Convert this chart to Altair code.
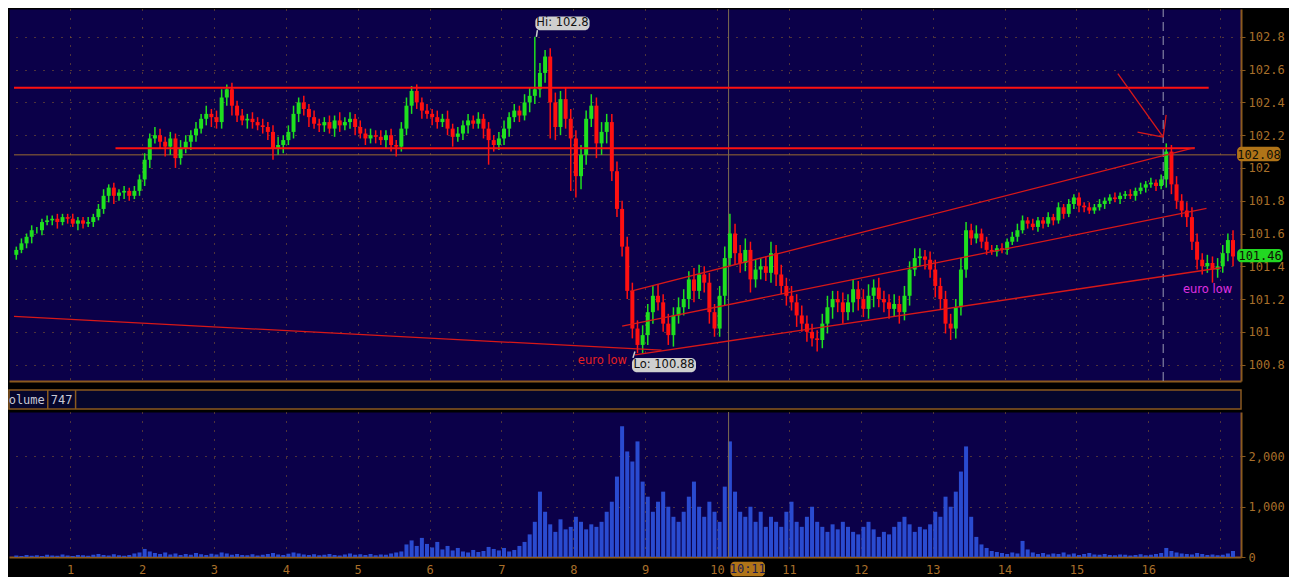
import altair as alt
import pandas as pd

# ---------------- data ----------------
closes = [
    101.50, 101.54, 101.58, 101.62, 101.62, 101.67, 101.68, 101.69, 101.67, 101.70,
    101.69, 101.66, 101.68, 101.66, 101.67, 101.70, 101.75, 101.83, 101.88, 101.83,
    101.85, 101.86, 101.83, 101.86, 101.93, 102.05, 102.18, 102.20, 102.16, 102.13,
    102.18, 102.06, 102.12, 102.16, 102.20, 102.24, 102.30, 102.33, 102.31, 102.28,
    102.43, 102.48, 102.38, 102.32, 102.29, 102.30, 102.28, 102.26, 102.25, 102.22,
    102.12, 102.14, 102.17, 102.22, 102.33, 102.40, 102.36, 102.31, 102.27, 102.26,
    102.28, 102.24, 102.29, 102.26, 102.28, 102.30, 102.25, 102.21, 102.18, 102.20,
    102.19, 102.17, 102.20, 102.14, 102.13, 102.24, 102.38, 102.47, 102.40, 102.35,
    102.33, 102.31, 102.28, 102.30, 102.24, 102.19, 102.21, 102.26, 102.29, 102.27,
    102.30, 102.24, 102.17, 102.14, 102.18, 102.24, 102.31, 102.35, 102.32, 102.40,
    102.44, 102.48, 102.58, 102.68, 102.40, 102.25, 102.42, 102.30, 102.18, 101.95,
    102.08, 102.30, 102.38, 102.15, 102.22, 102.28, 101.98, 101.75, 101.52, 101.25,
    101.02, 100.92, 100.98, 101.12, 101.22, 101.18, 101.05, 100.98, 101.10, 101.15,
    101.20, 101.32, 101.25, 101.35, 101.30, 101.12, 101.02, 101.22, 101.45, 101.60,
    101.48, 101.42, 101.50, 101.32, 101.38, 101.40, 101.36, 101.48, 101.35, 101.28,
    101.22, 101.18, 101.10, 101.05, 101.00, 100.96, 100.95, 101.05, 101.15, 101.20,
    101.18, 101.12, 101.18, 101.26, 101.20, 101.14, 101.22, 101.27, 101.20, 101.18,
    101.14, 101.17, 101.12, 101.22, 101.38, 101.45, 101.46, 101.44, 101.38, 101.28,
    101.20, 101.05, 101.02, 101.15, 101.38, 101.62, 101.57, 101.60, 101.55, 101.50,
    101.49, 101.51, 101.50, 101.55, 101.58, 101.62, 101.68, 101.66, 101.64, 101.68,
    101.66, 101.70, 101.68, 101.76, 101.72, 101.78, 101.82, 101.77, 101.76, 101.74,
    101.76, 101.78, 101.80, 101.82, 101.81, 101.83, 101.84, 101.83, 101.86, 101.88,
    101.90, 101.91, 101.89, 101.93, 102.10, 101.90, 101.80, 101.74, 101.70, 101.55,
    101.44, 101.40, 101.42, 101.38, 101.40, 101.48, 101.56, 101.46,
]
# upper / lower wick length of each candle, in hundredths
wick_up_c = [
    2, 3, 2, 3, 2, 2, 3, 2, 3, 2,   2, 3, 2, 2, 3, 2, 3, 4, 2, 3,
    2, 3, 2, 3, 3, 4, 3, 5, 4, 3,   4, 3, 5, 4, 3, 4, 3, 5, 3, 4,
    5, 3, 4, 3, 4, 3, 4, 3, 4, 3,   4, 5, 3, 4, 5, 3, 4, 3, 4, 3,
    3, 4, 3, 5, 3, 4, 3, 4, 3, 4,   3, 4, 3, 4, 3, 4, 5, 3, 4, 3,
    4, 3, 4, 3, 5, 3, 4, 3, 4, 3,   4, 3, 4, 3, 4, 5, 3, 4, 3, 5,
    5, 5, 6, 4, 5, 6, 5, 7, 6, 5,   6, 5, 7, 5, 6, 5, 5, 6, 5, 6,
    5, 5, 6, 5, 6, 7, 5, 6, 5, 6,   6, 5, 7, 6, 5, 6, 5, 6, 7, 5,
    6, 5, 7, 5, 6, 5, 6, 7, 5, 6,   5, 6, 5, 6, 5, 5, 5, 6, 7, 5,
    5, 6, 5, 6, 5, 6, 7, 5, 6, 5,   5, 6, 5, 6, 5, 6, 5, 4, 5, 6,
    5, 5, 6, 5, 7, 5, 4, 5, 3, 3,   3, 2, 3, 2, 3, 4, 3, 2, 3, 2,
    2, 3, 2, 3, 2, 3, 2, 3, 2, 3,   2, 3, 2, 2, 3, 2, 2, 3, 2, 3,
    2, 3, 2, 3, 5, 4, 5, 4, 5, 6,   5, 4, 5, 4, 5, 5, 4, 6,
]
wick_dn_c = [
    3, 2, 3, 4, 2, 3, 2, 3, 4, 2,   3, 2, 4, 3, 2, 3, 2, 3, 4, 5,
    3, 4, 3, 2, 3, 4, 5, 3, 4, 6,   5, 6, 4, 3, 5, 4, 3, 4, 6, 4,
    4, 5, 6, 4, 3, 5, 4, 3, 4, 5,   6, 4, 5, 3, 4, 5, 4, 6, 3, 4,
    4, 3, 5, 4, 3, 4, 5, 3, 4, 3,   4, 3, 5, 4, 6, 3, 4, 5, 4, 5,
    3, 5, 4, 3, 4, 6, 3, 4, 5, 3,   3, 6, 5, 4, 3, 4, 5, 3, 4, 3,
    6, 5, 5, 6, 5, 8, 5, 6, 7, 5,   8, 6, 5, 9, 7, 5, 6, 5, 6, 5,
    6, 5, 5, 6, 7, 5, 5, 6, 7, 5,   5, 6, 7, 5, 6, 7, 5, 5, 6, 5,
    7, 6, 5, 8, 5, 6, 5, 6, 7, 5,   6, 5, 7, 5, 6, 5, 7, 5, 6, 7,
    6, 7, 5, 6, 7, 5, 6, 7, 5, 6,   6, 5, 7, 5, 6, 4, 5, 6, 5, 7,
    6, 5, 7, 6, 5, 5, 4, 3, 4, 3,   2, 3, 2, 3, 2, 3, 2, 3, 2, 3,
    3, 2, 3, 2, 3, 2, 3, 4, 3, 2,   2, 2, 3, 2, 2, 3, 2, 2, 3, 2,
    3, 2, 3, 2, 5, 6, 5, 4, 6, 5,   6, 5, 4, 5, 5, 4, 5, 6,
]
volumes = [
    30, 20, 40, 25, 35, 20, 45, 30, 25, 50,
    30, 20, 40, 35, 25, 45, 60, 40, 30, 55,
    35, 25, 40, 70, 90, 160, 110, 80, 60, 90,
    50, 70, 40, 60, 45, 80, 55, 40, 65, 50,
    90, 70, 45, 60, 40, 35, 55, 30, 45, 60,
    80, 50, 40, 65, 90, 70, 50, 40, 55, 35,
    45, 60, 40, 30, 50, 70, 45, 55, 40, 60,
    35, 50, 45, 70, 90, 110, 250, 330, 220, 380,
    260, 190, 300, 150, 220, 130, 180, 110, 90, 140,
    100, 120, 200, 160, 130, 180, 110, 140, 220, 300,
    450, 700, 1300, 900, 650, 500, 750, 550, 600, 800,
    700, 550, 650, 600, 700, 900, 1100, 1600, 2600, 2100,
    1900, 2300, 1500, 1200, 900, 1100, 1300, 1000, 800, 700,
    900, 1200, 1500, 1000, 800, 1100, 900, 700, 1400, 2300,
    1300, 900, 800, 1000, 700, 900, 600, 800, 700, 600,
    900, 1100, 700, 600, 800, 1000, 700, 600, 500, 650,
    550, 700, 600, 500, 450, 600, 700, 550, 400, 500,
    450, 600, 700, 800, 650, 500, 600, 550, 650, 900,
    800, 1200, 1000, 1300, 1700, 2200, 800, 400, 250, 180,
    120, 100, 80, 60, 90, 70, 320, 150, 90, 60,
    80, 50, 70, 60, 90, 50, 70, 40, 60, 80,
    50, 45, 60, 40, 35, 50, 45, 30, 40, 55,
    35, 45, 60, 80, 180, 120, 90, 70, 60, 50,
    80, 60, 40, 50, 35, 45, 70, 120,
]
first_open = 101.47
start_day = 0.25
bars_per_day = 14

# notable spikes (extreme highs / lows)
spike_idx = [50, 92, 101, 103, 104, 108, 109, 115, 121, 126, 136, 139, 155, 181, 185, 224, 233]
spike_hi = [102.22, 102.24, 102.80, 102.72, 102.68, 102.30, 102.18, 102.32, 101.02, 101.22,
            101.12, 101.72, 101.00, 101.20, 101.67, 102.14, 101.42]
spike_lo = [102.05, 102.02, 102.40, 102.55, 102.18, 101.86, 101.82, 102.15, 100.88, 101.00,
            100.98, 101.45, 100.91, 100.99, 101.38, 101.93, 101.30]

day_ticks = list(range(1, 18))
price_ticks = [100.8, 101.0, 101.2, 101.4, 101.6, 101.8, 102.0, 102.2, 102.4, 102.6, 102.8]
volume_ticks = [0, 1000, 2000]

# drawn trend lines: (day, price) -> (day, price)
thick_x1 = [0.218, 1.63]
thick_y1 = [102.49, 102.12]
thick_x2 = [16.84, 16.645]
thick_y2 = [102.49, 102.12]

thin_x1 = [8.79, 8.679, 8.857, 0.218, 15.576, 15.85, 16.248]
thin_y1 = [101.247, 101.035, 100.859, 101.094, 102.576, 102.218, 102.324]
thin_x2 = [16.645, 16.81, 17.015, 9.227, 16.207, 16.207, 16.207]
thin_y2 = [102.124, 101.753, 101.391, 100.888, 102.188, 102.188, 102.188]

last_price_line = 102.08
last_price = 101.46
cursor_day = 10.16
dashed_day = 16.207
volume_now = "747"

# ---------------- styling ----------------
BG = "#000000"
PANEL = "#0b0049"
HEADER = "#06062c"
FRAME = "#8b5a1e"
GRID = "#93672c"
LAB = "#a86f2a"
GREEN = "#1fe01f"
RED = "#ff1010"
LINE_RED = "#d81818"
VOL = "#2a4bd0"
MONO = "DejaVu Sans Mono"
SANS = "DejaVu Sans"

W = 1232
XDOM = [0.218, 17.22]
XS = alt.Scale(domain=XDOM, nice=False, zero=False)
PYS = alt.Scale(domain=[100.7, 102.97], nice=False, zero=False)
VYS = alt.Scale(domain=[0, 2885], nice=False, zero=False)

# ---------------- tables ----------------
n = len(closes)
days = [start_day + i / bars_per_day for i in range(n)]
opens = [first_open] + closes[:-1]
highs = [max(o, c) + u / 100 for o, c, u in zip(opens, closes, wick_up_c)]
lows = [min(o, c) - d / 100 for o, c, d in zip(opens, closes, wick_dn_c)]
for k, i in enumerate(spike_idx):
    highs[i] = max(highs[i], spike_hi[k])
    lows[i] = min(lows[i], spike_lo[k])
candles = pd.DataFrame({
    "day": days, "open": opens, "close": closes, "hi": highs, "lo": lows,
    "dir": ["up" if c >= o else "down" for o, c in zip(opens, closes)],
    "volume": volumes,
})
thick = pd.DataFrame({"x": thick_x1, "y": thick_y1, "x2": thick_x2, "y2": thick_y2})
thin = pd.DataFrame({"x": thin_x1, "y": thin_y1, "x2": thin_x2, "y2": thin_y2})

PX_AXIS = alt.Axis(values=day_ticks, grid=True, gridColor=GRID, gridDash=[1, 8],
                   labels=False, ticks=False, domain=True, domainColor=FRAME,
                   domainWidth=2, title=None)
PY_AXIS = alt.Axis(orient="right", values=price_ticks, format="~g", grid=True,
                   gridColor=GRID, gridDash=[1, 8], labelColor=LAB, labelFont=MONO,
                   labelFontSize=12, tickColor=FRAME, tickSize=4, domainColor=FRAME,
                   domainWidth=2, labelPadding=3, title=None)


def px(field):
    return alt.X(field, type="quantitative", scale=XS, axis=PX_AXIS)


def py(field):
    return alt.Y(field, type="quantitative", scale=PYS, axis=PY_AXIS)


color_dir = alt.Color("dir:N", scale=alt.Scale(domain=["up", "down"], range=[GREEN, RED]),
                      legend=None)

wick_layer = alt.Chart(candles).mark_rule(strokeWidth=1.5).encode(
    x=px("day"), y=py("lo"), y2="hi", color=color_dir)
bodies = alt.Chart(candles).mark_bar(width=4).encode(
    x=px("day"), y=py("open"), y2="close", color=color_dir)

hline = alt.Chart(pd.DataFrame({"x": [XDOM[0]], "x2": [XDOM[1]], "y": [last_price_line]})).mark_rule(
    color="#9a6a30", strokeWidth=1).encode(x=px("x"), x2="x2", y=py("y"))
cursor = alt.Chart(pd.DataFrame({"x": [cursor_day], "y": [100.7], "y2": [102.97]})).mark_rule(
    color="#7c6a50", strokeWidth=1).encode(x=px("x"), y=py("y"), y2="y2")
dashed = alt.Chart(pd.DataFrame({"x": [dashed_day], "y": [100.7], "y2": [102.97]})).mark_rule(
    color="#9a9ab4", strokeWidth=1, strokeDash=[9, 5]).encode(x=px("x"), y=py("y"), y2="y2")

thick_layer = alt.Chart(thick).mark_rule(color=RED, strokeWidth=2, clip=True).encode(
    x=px("x"), y=py("y"), x2="x2", y2="y2")
thin_layer = alt.Chart(thin).mark_rule(color=LINE_RED, strokeWidth=1.3, clip=True).encode(
    x=px("x"), y=py("y"), x2="x2", y2="y2")

# callouts
box_df = pd.DataFrame({
    "x": [7.472, 8.816], "x2": [8.226, 9.707],
    "y": [102.841, 100.753], "y2": [102.924, 100.841],
})
boxes = alt.Chart(box_df).mark_rect(color="#cfcfcf", cornerRadius=5).encode(
    x=px("x"), x2="x2", y=py("y"), y2="y2")
tails = alt.Chart(pd.DataFrame({"x": [7.50, 8.83], "y": [102.841, 100.841],
                                "x2": [7.486, 8.857], "y2": [102.80, 100.88]})).mark_rule(
    color="#cfcfcf", strokeWidth=1.5).encode(x=px("x"), y=py("y"), x2="x2", y2="y2")
box_text = alt.Chart(pd.DataFrame({"x": [7.849, 9.262], "y": [102.882, 100.797],
                                   "t": ["Hi: 102.8", "Lo: 100.88"]})).mark_text(
    font=SANS, fontSize=11.5, color="#101010", align="center", baseline="middle").encode(
    x=px("x"), y=py("y"), text="t:N")
euro_red = alt.Chart(pd.DataFrame({"x": [8.747], "y": [100.824], "t": ["euro low"]})).mark_text(
    font=SANS, fontSize=11.5, color="#e52020", align="right", baseline="middle").encode(
    x=px("x"), y=py("y"), text="t:N")
euro_mag = alt.Chart(pd.DataFrame({"x": [17.166], "y": [101.253], "t": ["euro low"]})).mark_text(
    font=SANS, fontSize=11.5, color="#e030e0", align="right", baseline="middle").encode(
    x=px("x"), y=py("y"), text="t:N")

# price tags on the right axis
tag_amber = alt.Chart(pd.DataFrame({"x": [17.235], "x2": [17.84], "y": [102.041], "y2": [102.129]})).mark_rect(
    cornerRadius=4, color="#b07418").encode(x=px("x"), x2="x2", y=py("y"), y2="y2")
tag_green = alt.Chart(pd.DataFrame({"x": [17.235], "x2": [17.87], "y": [101.424], "y2": [101.506]})).mark_rect(
    cornerRadius=4, color="#22d822").encode(x=px("x"), x2="x2", y=py("y"), y2="y2")
tag_text = alt.Chart(pd.DataFrame({
    "x": [17.54, 17.555], "y": [last_price_line, last_price + 0.005],
    "t": [f"{last_price_line:.2f}", f"{last_price:.2f}"]})).mark_text(
    font=MONO, fontSize=12, color="#101005", align="center", baseline="middle").encode(
    x=px("x"), y=py("y"), text="t:N")

price = alt.layer(
    hline, cursor, dashed, wick_layer, bodies, thick_layer, thin_layer,
    tails, boxes, box_text, euro_red, euro_mag, tag_amber, tag_green, tag_text,
).properties(width=W, height=372)

# ---------------- header strip ----------------
HYS = alt.Scale(domain=[0, 1], nice=False, zero=False)


def hx(field):
    return alt.X(field, type="quantitative", scale=XS, axis=None)


def hy(field):
    return alt.Y(field, type="quantitative", scale=HYS, axis=None)


hdr_text = alt.Chart(pd.DataFrame({"x": [0.712], "y": [0.5], "t": ["Volume"]})).mark_text(
    font=MONO, fontSize=12, color="#c8c8d4", align="right", baseline="middle", clip=True).encode(
    x=hx("x"), y=hy("y"), text="t:N")
hdr_val = alt.Chart(pd.DataFrame({"x": [0.945], "y": [0.5], "t": [volume_now]})).mark_text(
    font=MONO, fontSize=12, color="#c8c8d4", align="center", baseline="middle").encode(
    x=hx("x"), y=hy("y"), text="t:N")
hdr_div = alt.Chart(pd.DataFrame({"x": [0.753, 1.137], "y": [0, 0], "y2": [1, 1]})).mark_rule(
    color=FRAME, strokeWidth=1.5).encode(x=hx("x"), y=hy("y"), y2="y2")
header = alt.layer(hdr_div, hdr_text, hdr_val).properties(
    width=W, height=19,
    view=alt.ViewBackground(fill=HEADER, stroke=FRAME, strokeWidth=1.5))

# ---------------- volume panel ----------------
VX_AXIS = alt.Axis(values=day_ticks, grid=True, gridColor=GRID, gridDash=[1, 8],
                   labelExpr="datum.value == 17 ? '' : datum.label",
                   labelColor=LAB, labelFont=MONO, labelFontSize=12, labelPadding=7,
                   ticks=False, domain=True, domainColor=FRAME, domainWidth=2, title=None)
VY_AXIS = alt.Axis(orient="right", values=volume_ticks, format=",.0f", grid=True,
                   gridColor=GRID, gridDash=[1, 8], labelColor=LAB, labelFont=MONO,
                   labelFontSize=12, tickColor=FRAME, tickSize=4, domainColor=FRAME,
                   domainWidth=2, labelPadding=3, title=None)


def vx(field):
    return alt.X(field, type="quantitative", scale=XS, axis=VX_AXIS)


def vy(field):
    return alt.Y(field, type="quantitative", scale=VYS, axis=VY_AXIS)


vol_bars = alt.Chart(candles).mark_bar(width=4, color=VOL).encode(x=vx("day"), y=vy("volume"))
vol_cursor = alt.Chart(pd.DataFrame({"x": [cursor_day], "y": [0], "y2": [2885]})).mark_rule(
    color="#7c6a50", strokeWidth=1).encode(x=vx("x"), y=vy("y"), y2="y2")
time_box = alt.Chart(pd.DataFrame({"x": [10.187], "x2": [10.667], "y": [-96], "y2": [-385]})).mark_rect(
    color="#b07418", cornerRadius=4).encode(x=vx("x"), x2="x2", y=vy("y"), y2="y2")
time_text = alt.Chart(pd.DataFrame({"x": [10.427], "y": [-245], "t": ["10:11"]})).mark_text(
    font=MONO, fontSize=12, color="#1a1a50", align="center", baseline="middle").encode(
    x=vx("x"), y=vy("y"), text="t:N")
volume = alt.layer(vol_bars, vol_cursor, time_box, time_text).properties(width=W, height=145)

chart = alt.vconcat(
    price,
    alt.vconcat(header, volume, spacing=0),
    spacing=6,
).properties(
    padding={"left": 0, "top": 0, "right": 4, "bottom": 0},
).configure(background=BG).configure_view(fill=PANEL, stroke="transparent")

chart.save("out.html", embed_options={"renderer": "svg", "actions": False})
